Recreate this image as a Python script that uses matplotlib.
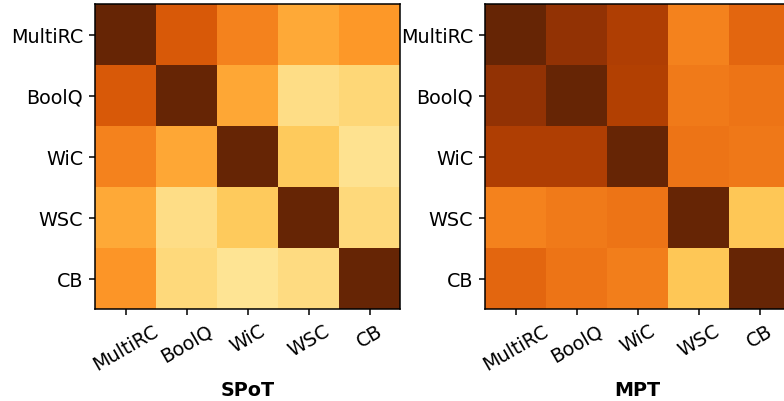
import numpy as np
import matplotlib
matplotlib.use("Agg")
import matplotlib.pyplot as plt

tasks = ["MultiRC", "BoolQ", "WiC", "WSC", "CB"]

# task-similarity estimates (YlOrBr, 0..1)
spot = [
    [1.00, 0.70, 0.57, 0.45, 0.50],
    [0.70, 1.00, 0.46, 0.27, 0.30],
    [0.57, 0.46, 1.00, 0.35, 0.25],
    [0.45, 0.27, 0.35, 1.00, 0.29],
    [0.51, 0.29, 0.24, 0.28, 1.00],
]
mpt = [
    [1.00, 0.89, 0.82, 0.57, 0.66],
    [0.89, 1.00, 0.81, 0.59, 0.61],
    [0.82, 0.82, 1.00, 0.61, 0.60],
    [0.57, 0.59, 0.61, 1.00, 0.36],
    [0.66, 0.61, 0.58, 0.36, 1.00],
]

fig = plt.figure(figsize=(7.84, 4.02), dpi=100)
W, H = 784, 402
panels = [(spot, "SPoT", 95), (mpt, "MPT", 485)]

for mat, name, x0 in panels:
    ax = fig.add_axes([x0 / W, (H - 310) / H, 305 / W, 305 / H])
    ax.imshow(np.array(mat), cmap="YlOrBr", vmin=0, vmax=1, aspect="auto")
    ax.set_xticks(range(len(tasks)))
    ax.set_yticks(range(len(tasks)))
    ax.set_xticklabels(tasks, rotation=30, fontsize=13.8)
    ax.set_yticklabels(tasks, fontsize=13.8)
    ax.tick_params(length=4.5, width=1.1, pad=4)
    for s in ax.spines.values():
        s.set_linewidth(1.1)
    ax.set_xlabel(name, fontsize=13.8, fontweight="bold", labelpad=5)

fig.savefig("out.png", dpi=100)
